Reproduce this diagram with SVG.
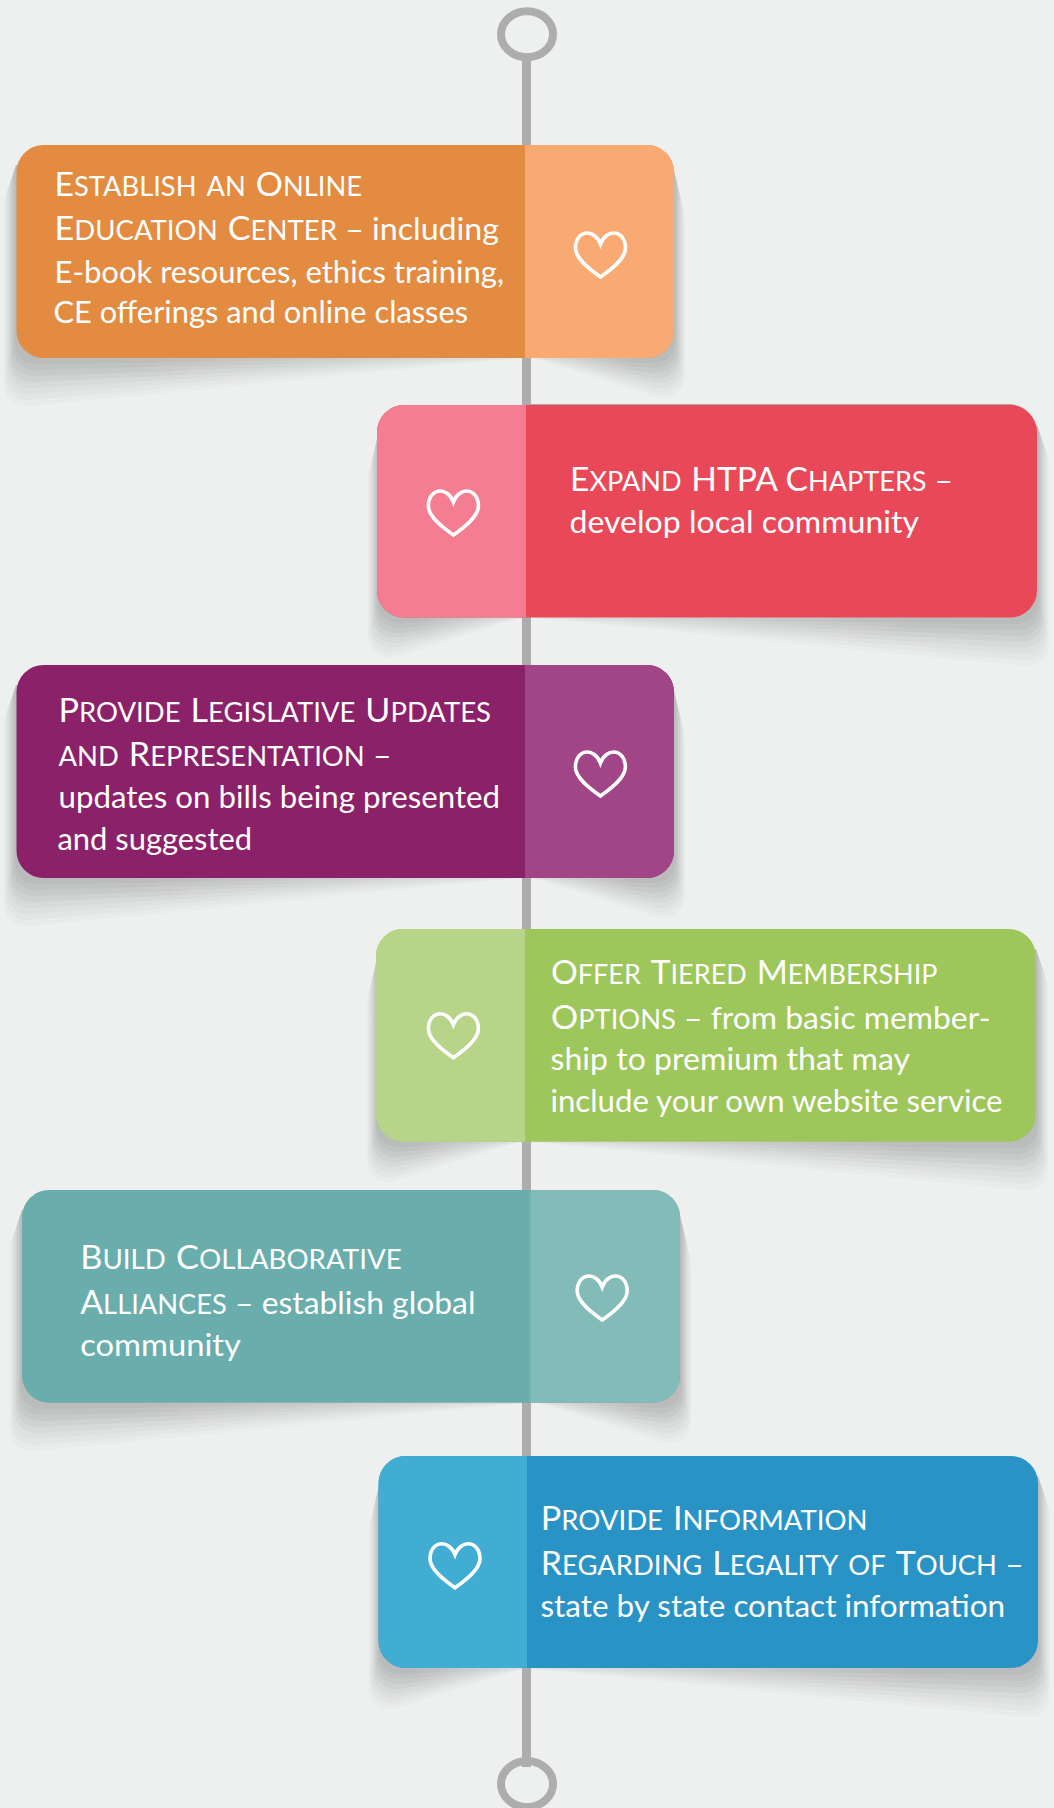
<svg xmlns="http://www.w3.org/2000/svg" width="1054" height="1808" viewBox="0 0 1054 1808">
<style>
text{font-family:Lato,"Liberation Sans",sans-serif;font-size:31.5px;fill:#fff;white-space:pre}
.c{font-size:33.5px}
.s{font-size:38.5px;font-variant:small-caps}
.l path{fill:url(#fadeL)}
.r path{fill:url(#fadeR)}
.a{fill-opacity:.038}.b{fill-opacity:.036}.d{fill-opacity:.036}.e{fill-opacity:.034}.f{fill-opacity:.03}.g{fill-opacity:.026}.i{fill-opacity:.022}.j{fill-opacity:.018}
.h{fill:none;stroke:#fff;stroke-width:3.6;stroke-linejoin:miter}
.ring{fill:none;stroke:#adadad;stroke-width:8}
</style>
<defs>
<linearGradient id="fadeL" gradientUnits="userSpaceOnUse" x1="120" y1="0" x2="509" y2="0"><stop offset="0" stop-color="#000"/><stop offset="1" stop-color="#000" stop-opacity=".25"/></linearGradient>
<linearGradient id="fadeR" gradientUnits="userSpaceOnUse" x1="620" y1="0" x2="515" y2="0"><stop offset="0" stop-color="#000"/><stop offset="1" stop-color="#000" stop-opacity=".25"/></linearGradient>
<g id="shadow">
<g class="l">
<path class="a" d="M0,20L-1.5,24.4V195Q-1.5,219 22.5,219L509,213Z"/>
<path class="b" d="M0,20L-3,28.8V201Q-3,225 21,225L509,213Z"/>
<path class="d" d="M0,20L-4.5,33.2V207Q-4.5,231 19.5,231L509,213Z"/>
<path class="e" d="M0,20L-6,37.6V213Q-6,237 18,237L509,213Z"/>
<path class="f" d="M0,20L-7.5,42V219Q-7.5,243 16.5,243L509,213Z"/>
<path class="g" d="M0,20L-9,46.4V225Q-9,249 15,249L509,213Z"/>
<path class="i" d="M0,20L-10.5,50.8V231Q-10.5,255 13.5,255L509,213Z"/>
<path class="j" d="M0,20L-12,55.2V237Q-12,261 12,261L509,213Z"/>
</g>
<g class="r">
<path class="a" d="M658,25L659.4,31V194Q659.4,218 635.4,218L515,213Z"/>
<path class="b" d="M658,25L660.8,37V199Q660.8,223 636.8,223L515,213Z"/>
<path class="d" d="M658,25L662.2,43V204Q662.2,228 638.2,228L515,213Z"/>
<path class="e" d="M658,25L663.6,49V209Q663.6,233 639.6,233L515,213Z"/>
<path class="f" d="M658,25L665,55V214Q665,238 641,238L515,213Z"/>
<path class="g" d="M658,25L666.4,61V219Q666.4,243 642.4,243L515,213Z"/>
<path class="i" d="M658,25L667.8,67V224Q667.8,248 643.8,248L515,213Z"/>
<path class="j" d="M658,25L669.2,73V229Q669.2,253 645.2,253L515,213Z"/>
</g>
</g>
<path id="heart" class="h" d="M0,13C-3,5 -9,2 -13,2C-20,2 -25,8 -25,17C-25,28 -10,39 0,46C10,39 25,28 25,17C25,8 20,2 13,2C9,2 3,5 0,13Z"/>
</defs>
<rect width="1054" height="1808" fill="#eef0ef"/>
<g id="connectors">
<rect x="522" y="58" width="9" height="1709" fill="#adadad"/>
</g>
<g id="ring-top"><ellipse class="ring" cx="527" cy="34.3" rx="26" ry="23"/></g>
<g id="ring-bottom"><ellipse class="ring" cx="527" cy="1784" rx="26" ry="23"/></g>

<g id="card-1">
<use href="#shadow" transform="translate(16,145)"/>
<rect x="16.5" y="145" width="657.5" height="213" rx="27" fill="#e38b40"/>
<path d="M525,145H647a27,27 0 0 1 27,27V331a27,27 0 0 1-27,27H525Z" fill="#f9aa72"/>
<use href="#heart" transform="translate(600.5,231)"/>
<text x="54.5" y="195.7" textLength="307.5" lengthAdjust="spacingAndGlyphs"><tspan class="c">E</tspan><tspan class="s">stablish an </tspan><tspan class="c">O</tspan><tspan class="s">nline</tspan></text>
<text x="54.5" y="240" textLength="444.5" lengthAdjust="spacingAndGlyphs"><tspan class="c">E</tspan><tspan class="s">ducation </tspan><tspan class="c">C</tspan><tspan class="s">enter</tspan> – including</text>
<text x="54.5" y="282.7" textLength="449.5" lengthAdjust="spacingAndGlyphs">E-book resources, ethics training,</text>
<text x="53.5" y="323" textLength="414.5" lengthAdjust="spacingAndGlyphs">CE offerings and online classes</text>
</g>

<g id="card-2">
<use href="#shadow" transform="translate(1037,405) scale(-1,1)"/>
<path d="M526,404H1010a27,27 0 0 1 24,18H526Z" fill="#a9abaa"/>
<rect x="377" y="405" width="660" height="212.5" rx="27" fill="#e94858"/>
<path d="M526,405H404a27,27 0 0 0-27,27V590.5a27,27 0 0 0 27,27H526Z" fill="#f47d92"/>
<use href="#heart" transform="translate(453.4,489)"/>
<text x="570" y="491.4" textLength="383" lengthAdjust="spacingAndGlyphs"><tspan class="c">E</tspan><tspan class="s">xpand </tspan><tspan class="c">HTPA C</tspan><tspan class="s">hapters</tspan> –</text>
<text x="569.5" y="533.2" textLength="349.5" lengthAdjust="spacingAndGlyphs">develop local community</text>
</g>

<g id="card-3">
<use href="#shadow" transform="translate(16,665)"/>
<rect x="16.5" y="665" width="657.5" height="213" rx="27" fill="#8b2168"/>
<path d="M525,665H647a27,27 0 0 1 27,27V851a27,27 0 0 1-27,27H525Z" fill="#a14586"/>
<use href="#heart" transform="translate(600.4,750)"/>
<text x="58.5" y="722.4" textLength="432.5" lengthAdjust="spacingAndGlyphs"><tspan class="c">P</tspan><tspan class="s">rovide </tspan><tspan class="c">L</tspan><tspan class="s">egislative </tspan><tspan class="c">U</tspan><tspan class="s">pdates</tspan></text>
<text x="58.5" y="766.4" textLength="333" lengthAdjust="spacingAndGlyphs"><tspan class="s">and </tspan><tspan class="c">R</tspan><tspan class="s">epresentation</tspan> –</text>
<text x="58.5" y="807.8" textLength="441.5" lengthAdjust="spacingAndGlyphs">updates on bills being presented</text>
<text x="57.5" y="849.8" textLength="194.5" lengthAdjust="spacingAndGlyphs">and suggested</text>
</g>

<g id="card-4">
<use href="#shadow" transform="translate(1036,929) scale(-1,1)"/>
<rect x="376" y="929" width="659.7" height="212.7" rx="27" fill="#9dc65b"/>
<path d="M525,929H403a27,27 0 0 0-27,27V1114.7a27,27 0 0 0 27,27H525Z" fill="#b7d489"/>
<use href="#heart" transform="translate(453.4,1011.7)"/>
<text x="551" y="984" textLength="386.5" lengthAdjust="spacingAndGlyphs"><tspan class="c">O</tspan><tspan class="s">ffer </tspan><tspan class="c">T</tspan><tspan class="s">iered </tspan><tspan class="c">M</tspan><tspan class="s">embership</tspan></text>
<text x="551" y="1029" textLength="439.5" lengthAdjust="spacingAndGlyphs"><tspan class="c">O</tspan><tspan class="s">ptions</tspan> – from basic member-</text>
<text x="550.5" y="1069.8" textLength="359.5" lengthAdjust="spacingAndGlyphs">ship to premium that may</text>
<text x="550.5" y="1112.2" textLength="452" lengthAdjust="spacingAndGlyphs">include your own website service</text>
</g>

<g id="card-5">
<use href="#shadow" transform="translate(22,1190)"/>
<rect x="22" y="1190" width="658" height="212.7" rx="27" fill="#69adac"/>
<path d="M530.4,1190H653a27,27 0 0 1 27,27V1375.7a27,27 0 0 1-27,27H530.4Z" fill="#82bbb8"/>
<use href="#heart" transform="translate(602.2,1274)"/>
<text x="80.2" y="1269" textLength="321.5" lengthAdjust="spacingAndGlyphs"><tspan class="c">B</tspan><tspan class="s">uild </tspan><tspan class="c">C</tspan><tspan class="s">ollaborative</tspan></text>
<text x="80.2" y="1314" textLength="395.2" lengthAdjust="spacingAndGlyphs"><tspan class="c">A</tspan><tspan class="s">lliances</tspan> – establish global</text>
<text x="80.2" y="1356.2" textLength="160.8" lengthAdjust="spacingAndGlyphs">community</text>
</g>

<g id="card-6">
<use href="#shadow" transform="translate(1038,1456) scale(-1,1)"/>
<rect x="378.6" y="1456" width="659.4" height="212" rx="27" fill="#2a93c6"/>
<path d="M527,1456H405.6a27,27 0 0 0-27,27V1641a27,27 0 0 0 27,27H527Z" fill="#42add3"/>
<use href="#heart" transform="translate(455,1541.7)"/>
<text x="540.8" y="1530" textLength="326.7" lengthAdjust="spacingAndGlyphs"><tspan class="c">P</tspan><tspan class="s">rovide </tspan><tspan class="c">I</tspan><tspan class="s">nformation</tspan></text>
<text x="540.8" y="1575.4" textLength="482.9" lengthAdjust="spacingAndGlyphs"><tspan class="c">R</tspan><tspan class="s">egarding </tspan><tspan class="c">L</tspan><tspan class="s">egality of </tspan><tspan class="c">T</tspan><tspan class="s">ouch</tspan> –</text>
<text x="540.5" y="1617.2" textLength="464.5" lengthAdjust="spacingAndGlyphs">state by state contact information</text>
</g>
</svg>
